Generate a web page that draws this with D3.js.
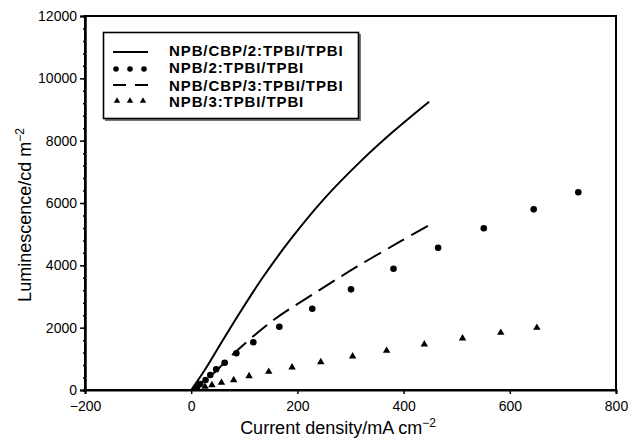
<!DOCTYPE html>
<html>
<head>
<meta charset="utf-8">
<script src="https://cdn.jsdelivr.net/npm/d3@7"></script>
<style>
  body { margin: 0; background: #fff; }
  svg { font-family: "Liberation Sans", Arial, sans-serif; }
</style>
</head>
<body>
<svg id="chart" width="629" height="439"></svg>
<script>
// series (current density mA/cm2, luminescence cd/m2)
var cbp2X = [0, 24, 55, 93, 136, 187, 249, 318, 381, 448];
var cbp2Y = [0, 600, 1470, 2520, 3640, 4830, 6110, 7320, 8300, 9250];

var npb2X = [11, 17, 27, 36, 47, 63, 85, 117, 166, 228, 301, 381, 465, 551, 645, 729];
var npb2Y = [87, 192, 321, 481, 664, 876, 1177, 1530, 2031, 2609, 3230, 3892, 4565, 5188, 5797, 6343];

var cbp3X = [0, 40, 77, 155, 237, 312, 393, 454];
var cbp3Y = [0, 500, 1123, 2246, 3154, 3956, 4758, 5348];

var npb3X = [26, 39, 57, 80, 109, 146, 190, 244, 304, 368, 439, 511, 583, 651];
var npb3Y = [106, 160, 234, 321, 449, 587, 728, 898, 1081, 1261, 1466, 1659, 1838, 1999];

var xTicks = [-200, 0, 200, 400, 600, 800];
var yTicks = [0, 2000, 4000, 6000, 8000, 10000, 12000];
var legendNames = ["NPB/CBP/2:TPBI/TPBI", "NPB/2:TPBI/TPBI", "NPB/CBP/3:TPBI/TPBI", "NPB/3:TPBI/TPBI"];

var svg = d3.select("#chart");
var plotL = 85, plotR = 616, plotT = 16, plotB = 390;

var x = d3.scaleLinear().domain([-200, 800]).range([plotL, plotR]);
var y = d3.scaleLinear().domain([0, 12000]).range([plotB, plotT]);

function pairs(xs, ys) {
  return xs.map(function (v, i) { return [v, ys[i]]; });
}

// frame
svg.append("rect")
  .attr("x", plotL).attr("y", plotT)
  .attr("width", plotR - plotL).attr("height", plotB - plotT)
  .attr("fill", "none").attr("stroke", "#000").attr("stroke-width", 2);

// axes
var xAxis = svg.append("g").attr("transform", "translate(0," + plotB + ")")
  .call(d3.axisBottom(x).tickValues(xTicks).tickSize(4).tickPadding(7)
    .tickFormat(function (d) { return d < 0 ? "\u2212" + Math.abs(d) : d; }));
var yMinor = svg.append("g").attr("transform", "translate(" + plotL + ",0)")
  .call(d3.axisLeft(y).tickValues(d3.range(0, 12001, 400)).tickSize(2).tickFormat(""));
var yAxis = svg.append("g").attr("transform", "translate(" + plotL + ",0)")
  .call(d3.axisLeft(y).tickValues(yTicks).tickSize(5).tickPadding(3).tickFormat(d3.format("d")));

[xAxis, yAxis, yMinor].forEach(function (g) {
  g.select(".domain").attr("stroke-width", 2);
  g.selectAll(".tick line").attr("stroke-width", 1.5);
  g.selectAll("text").attr("font-size", 14).attr("fill", "#000")
    .attr("font-family", "Liberation Sans, Arial, sans-serif");
});

// axis titles
var xTitle = svg.append("text").attr("x", 338).attr("y", 434)
  .attr("text-anchor", "middle").attr("font-size", 18);
xTitle.append("tspan").text("Current density/mA cm");
xTitle.append("tspan").attr("dy", -7).attr("font-size", 12).text("\u22122");

var yTitle = svg.append("text")
  .attr("transform", "translate(31,215) rotate(-90)")
  .attr("text-anchor", "middle").attr("font-size", 18);
yTitle.append("tspan").text("Luminescence/cd m");
yTitle.append("tspan").attr("dy", -7).attr("font-size", 12).text("\u22122");

var line = d3.line()
  .x(function (d) { return x(d[0]); })
  .y(function (d) { return y(d[1]); })
  .curve(d3.curveCatmullRom);

// solid curve
svg.append("path").datum(pairs(cbp2X, cbp2Y))
  .attr("d", line).attr("fill", "none").attr("stroke", "#000").attr("stroke-width", 2);

// dashed curve
svg.append("path").datum(pairs(cbp3X, cbp3Y))
  .attr("d", line).attr("fill", "none").attr("stroke", "#000").attr("stroke-width", 2)
  .attr("stroke-dasharray", "19,8");

// circles
svg.append("g").selectAll("circle").data(pairs(npb2X, npb2Y)).join("circle")
  .attr("cx", function (d) { return x(d[0]); })
  .attr("cy", function (d) { return y(d[1]); })
  .attr("r", 3.3).attr("fill", "#000");

// triangles
var tri = d3.symbol().type(d3.symbolTriangle).size(24);
svg.append("g").selectAll("path").data(pairs(npb3X, npb3Y)).join("path")
  .attr("d", tri)
  .attr("transform", function (d) { return "translate(" + x(d[0]) + "," + y(d[1]) + ")"; })
  .attr("fill", "#000");

// legend
var lg = svg.append("g");
lg.append("rect").attr("x", 105).attr("y", 34).attr("width", 256).attr("height", 87).attr("fill", "#777");
lg.append("rect").attr("x", 103.5).attr("y", 32.5).attr("width", 255).attr("height", 86)
  .attr("fill", "#fff").attr("stroke", "#000").attr("stroke-width", 1.6);

var rowY = [52, 69, 85, 101];
var textY = [56, 73, 91, 107];
lg.append("line").attr("x1", 113).attr("x2", 148).attr("y1", rowY[0]).attr("y2", rowY[0])
  .attr("stroke", "#000").attr("stroke-width", 2);
lg.selectAll(".ldot").data([116, 130, 144]).join("circle")
  .attr("cx", function (d) { return d; }).attr("cy", rowY[1]).attr("r", 2.8).attr("fill", "#000");
lg.append("line").attr("x1", 113).attr("x2", 148).attr("y1", rowY[2]).attr("y2", rowY[2])
  .attr("stroke", "#000").attr("stroke-width", 2).attr("stroke-dasharray", "13,9");
lg.selectAll(".ltri").data([117, 130, 143]).join("path")
  .attr("d", d3.symbol().type(d3.symbolTriangle).size(18))
  .attr("transform", function (d) { return "translate(" + d + "," + rowY[3] + ")"; })
  .attr("fill", "#000");
lg.selectAll(".ltext").data(legendNames).join("text")
  .attr("x", 169).attr("y", function (d, i) { return textY[i]; })
  .attr("font-size", 15).attr("font-weight", "bold").attr("letter-spacing", 0.9)
  .text(function (d) { return d; });
</script>
</body>
</html>
